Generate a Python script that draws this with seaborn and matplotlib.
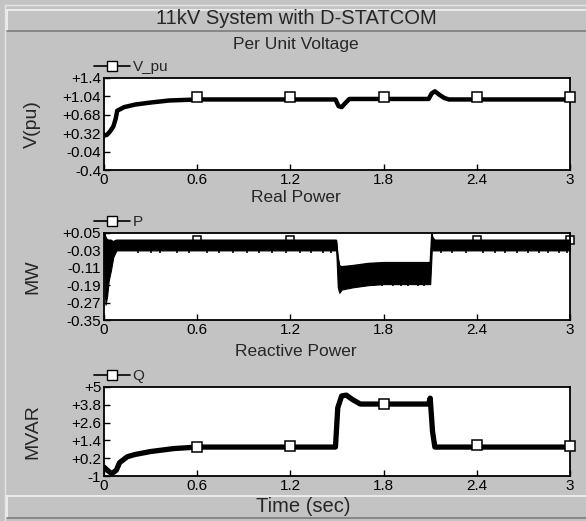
import numpy as np
import pandas as pd
import matplotlib
matplotlib.use("Agg")
import matplotlib.pyplot as plt
import seaborn as sns
from matplotlib.lines import Line2D

# ---------------- data ----------------
fig_title = "11kV System with D-STATCOM"
panel_titles = ["Per Unit Voltage", "Real Power", "Reactive Power"]
y_labels = ["V(pu)", "MW", "MVAR"]
series_names = ["V_pu", "P", "Q"]
x_label = "Time (sec)"

x_ticks = [0, 0.6, 1.2, 1.8, 2.4, 3.0]
v_ticks = [-0.4, -0.04, 0.32, 0.68, 1.04, 1.4]
p_ticks = [-0.35, -0.27, -0.19, -0.11, -0.03, 0.05]
q_ticks = [-1, 0.2, 1.4, 2.6, 3.8, 5]

v_t = [0, 0.02, 0.04, 0.06, 0.075, 0.085, 0.13, 0.2, 0.3, 0.42, 0.6, 1.2, 1.49,
       1.51, 1.53, 1.56, 1.58, 1.8, 2.09, 2.11, 2.13, 2.16, 2.19, 2.22, 2.4, 3.0]
v_val = [0.27, 0.29, 0.36, 0.45, 0.6, 0.76, 0.83, 0.88, 0.92, 0.96, 0.98, 0.98, 0.98,
         0.85, 0.83, 0.93, 0.99, 0.99, 0.99, 1.1, 1.14, 1.07, 1.01, 0.98, 0.98, 0.98]
v_mark_t = [0.6, 1.2, 1.8, 2.4, 3.0]
v_mark_val = [1.02, 1.02, 1.02, 1.02, 1.02]

p_t = [0, 0.005, 0.01, 0.02, 0.03, 0.045, 0.06, 0.08, 0.3, 0.6, 0.9, 1.2, 1.495,
       1.505, 1.515, 1.53, 1.6, 1.7, 1.8, 1.95, 2.1, 2.11, 2.115, 2.13, 2.4, 2.7, 3.0]
p_hi = [0.05, 0.045, 0.03, 0.02, 0.017, 0.017, 0.01, 0.017, 0.017, 0.017, 0.017, 0.017, 0.017,
        -0.06, -0.1, -0.105, -0.1, -0.09, -0.086, -0.086, -0.086, 0.045, 0.03, 0.017, 0.017, 0.017, 0.017]
p_lo = [0.0, -0.22, -0.28, -0.24, -0.17, -0.12, -0.06, -0.03, -0.03, -0.03, -0.03, -0.03, -0.03,
        -0.2, -0.225, -0.21, -0.2, -0.19, -0.185, -0.185, -0.185, -0.03, -0.03, -0.03, -0.03, -0.03, -0.03]
p_spike_t = [0.22, 0.3, 0.36, 0.47, 0.55, 0.66, 0.74, 0.83, 0.92, 1.0, 1.08, 1.17, 1.26, 1.33,
             1.41, 1.46, 2.17, 2.24, 2.33, 2.44, 2.52, 2.58, 2.66, 2.73, 2.8, 2.86, 2.93, 2.98]
p_spike_lo = [-0.044] * 28
p_spike2_t = [1.56, 1.62, 1.68, 1.74, 1.79, 1.86, 1.91, 1.96, 2.02, 2.06]
p_spike2_lo = [-0.195] * 10
p_mark_t = [0.6, 1.2, 2.4, 3.0]
p_mark_val = [0.017, 0.017, 0.017, 0.017]

q_t = [0, 0.02, 0.05, 0.08, 0.1, 0.15, 0.2, 0.3, 0.45, 0.6, 1.2, 1.49, 1.505, 1.53,
       1.56, 1.6, 1.65, 1.8, 2.09, 2.1, 2.115, 2.13, 2.4, 3.0]
q_val = [-0.4, -0.6, -0.85, -0.6, -0.1, 0.3, 0.45, 0.65, 0.85, 0.95, 0.95, 0.95, 3.6, 4.4,
         4.45, 4.15, 3.85, 3.85, 3.85, 4.25, 2.0, 0.95, 0.95, 0.95]
q_mark_t = [0.6, 1.2, 1.8, 2.4, 3.0]
q_mark_val = [0.95, 1.0, 3.85, 1.1, 1.0]

# ---------------- style ----------------
sns.set_theme(style="white")
plt.rcParams["font.family"] = ["Liberation Sans", "DejaVu Sans"]
BG = "#c3c3c3"

W, H = 586, 521
fig = plt.figure(figsize=(W / 100, H / 100), dpi=100)
fig.patch.set_facecolor(BG)

def fx(px):
    return px / W

def fy(py):
    return 1 - py / H

def fline(x0, y0, x1, y1, color, lw=1.0):
    fig.add_artist(Line2D([fx(x0), fx(x1)], [fy(y0), fy(y1)], transform=fig.transFigure,
                          color=color, lw=lw))

fline(5, 5, 586, 5, "#e6e6e6")
fline(5, 5, 5, 521, "#e6e6e6")
fline(7, 10, 586, 10, "#f2f2f2", 1.2)
fline(7, 10, 7, 31, "#f2f2f2", 1.2)
fline(7, 31, 586, 31, "#7d7d7d", 1.2)
fline(7, 496, 586, 496, "#f2f2f2", 1.2)
fline(7, 496, 7, 518, "#f2f2f2", 1.2)
fline(7, 518, 586, 518, "#7d7d7d", 1.2)

fig.text(fx(296), fy(19), fig_title, ha="center", va="center", fontsize=14.5)
fig.text(fx(303), fy(507), x_label, ha="center", va="center", fontsize=14.5)

axes_px = [(78, 170), (233, 320), (387, 476)]
left_px, right_px = 104, 570
title_y = [44, 197, 352]

axes = []
for (top, bot) in axes_px:
    ax = fig.add_axes([fx(left_px), fy(bot), (right_px - left_px) / W, (bot - top) / H])
    axes.append(ax)

def style_axis(ax, yticks, title, ylabel, ty):
    ax.set_facecolor("white")
    ax.set_xlim(0, 3)
    ax.set_ylim(yticks[0], yticks[-1])
    ax.set_xticks(x_ticks)
    ax.set_xticklabels([f"{v:g}" for v in x_ticks])
    ax.set_yticks(yticks)
    ax.set_yticklabels([f"{v:+g}" for v in yticks])
    ax.tick_params(axis="both", direction="in", length=4, width=1, colors="black",
                   labelsize=11, pad=2, left=True, bottom=True, top=False, right=False)
    for s in ax.spines.values():
        s.set_visible(True)
        s.set_color("black")
        s.set_linewidth(1.3)
    ax.set_xlabel("")
    ax.set_ylabel(ylabel, fontsize=14)
    ax.yaxis.set_label_coords(-0.135, 0.5)
    fig.text(fx(296), fy(ty), title, ha="center", va="center", fontsize=12.5)

# ---- V ----
ax = axes[0]
sns.lineplot(x=v_t, y=v_val, ax=ax, color="black", lw=3.2, estimator=None, sort=False)
ax.plot(v_mark_t, v_mark_val, ls="none", marker="s", ms=7.5, mfc="white", mec="black",
        mew=1.1, clip_on=False, zorder=5)
style_axis(ax, v_ticks, panel_titles[0], y_labels[0], title_y[0])

# ---- P ----
ax = axes[1]
ax.plot(p_mark_t, p_mark_val, ls="none", marker="s", ms=6, mfc="white", mec="black",
        mew=1.1, clip_on=False, zorder=1)
ax.fill_between(p_t, p_lo, p_hi, color="black", lw=0.8, edgecolor="black", zorder=3)
sns.lineplot(x=p_t, y=p_hi, ax=ax, color="black", lw=1.0, estimator=None, sort=False, zorder=3)
ax.vlines(p_spike_t, p_spike_lo, [-0.02] * len(p_spike_t), color="black", lw=1.2, zorder=3)
ax.vlines(p_spike2_t, p_spike2_lo, [-0.17] * len(p_spike2_t), color="black", lw=1.2, zorder=3)
style_axis(ax, p_ticks, panel_titles[1], y_labels[1], title_y[1])

# ---- Q ----
ax = axes[2]
sns.lineplot(x=q_t, y=q_val, ax=ax, color="black", lw=3.8, estimator=None, sort=False)
ax.plot(q_mark_t, q_mark_val, ls="none", marker="s", ms=7.5, mfc="white", mec="black",
        mew=1.1, clip_on=False, zorder=5)
style_axis(ax, q_ticks, panel_titles[2], y_labels[2], title_y[2])

# legends
for ax, name in zip(axes, series_names):
    h = Line2D([], [], color="black", lw=1.2, marker="s", ms=6.5, mfc="white", mec="black")
    ax.legend([h], [name], loc="lower left", bbox_to_anchor=(-0.022, 1.045),
              frameon=False, handlelength=2.4, handletextpad=0.15, borderpad=0,
              borderaxespad=0, fontsize=11)

fig.savefig("out.png", dpi=100, facecolor=BG)
